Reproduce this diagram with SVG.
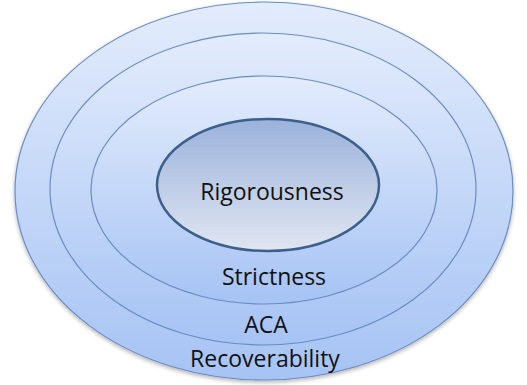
<svg xmlns="http://www.w3.org/2000/svg" width="527" height="385" viewBox="0 0 527 385">
<defs>
<linearGradient id="blue" x1="0" y1="0" x2="0" y2="1">
<stop offset="0" stop-color="#e3ecfc"/>
<stop offset="1" stop-color="#a6c3f4"/>
</linearGradient>
<linearGradient id="inner" x1="0" y1="0" x2="0" y2="1">
<stop offset="0" stop-color="#9bb2dc"/>
<stop offset="1" stop-color="#e0e6f1"/>
</linearGradient>
<filter id="sh" x="-10%" y="-10%" width="120%" height="125%">
<feGaussianBlur in="SourceAlpha" stdDeviation="2"/>
<feOffset dy="2" result="b"/>
<feComponentTransfer><feFuncA type="linear" slope="0.3"/></feComponentTransfer>
<feMerge><feMergeNode/><feMergeNode in="SourceGraphic"/></feMerge>
</filter>
</defs>
<style>
.ring{fill:url(#blue);stroke:#6a8cc2;stroke-width:1.2}
.core{fill:url(#inner);stroke:#3c5f8c;stroke-width:2.5}
text{font-family:"Open Sans","Liberation Sans",Arial,sans-serif;font-size:23px;fill:#111;text-anchor:middle}
</style>
<g id="recoverability">
<ellipse class="ring" cx="264" cy="191" rx="249" ry="189" filter="url(#sh)"/>
<text x="265" y="367">Recoverability</text>
</g>
<g id="aca">
<ellipse class="ring" cx="263" cy="189" rx="213" ry="156"/>
<text x="266" y="333">ACA</text>
</g>
<g id="strictness">
<ellipse class="ring" cx="264" cy="190" rx="173" ry="114"/>
<text x="274" y="285">Strictness</text>
</g>
<g id="rigorousness">
<ellipse class="core" cx="268" cy="185" rx="111" ry="66"/>
<text x="272" y="200">Rigorousness</text>
</g>
<g id="connectors"/>
</svg>
